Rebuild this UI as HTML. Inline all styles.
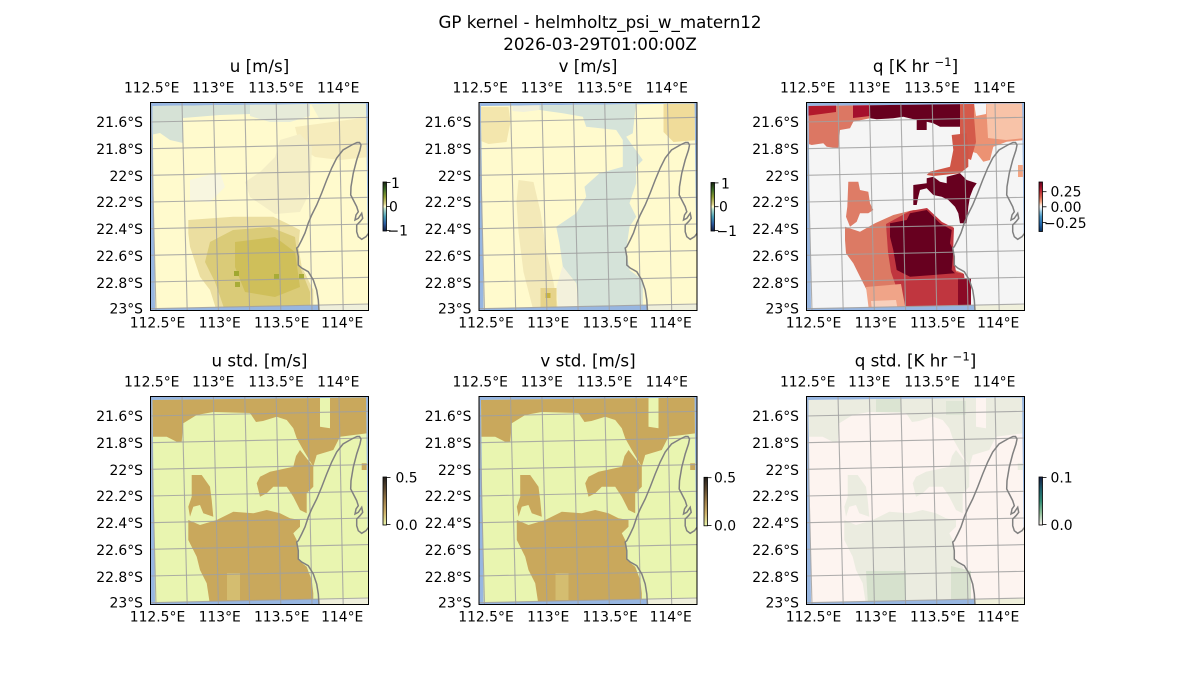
<!DOCTYPE html>
<html><head><meta charset="utf-8">
<style>
html,body{margin:0;padding:0;background:#fff}
svg{display:block}
text{font-family:"DejaVu Sans","Liberation Sans",sans-serif;fill:#000}
.t{font-size:13.9px}
.h{font-size:16.7px}
</style></head><body>
<svg width="1200" height="700" viewBox="0 0 1200 700" xmlns="http://www.w3.org/2000/svg" xmlns:xlink="http://www.w3.org/1999/xlink">
<defs>
 <clipPath id="pc"><rect x="0" y="0" width="219" height="209"/></clipPath>
 <clipPath id="dq"><polygon points="2.5,4 216,1.5 218.5,202 5,206.5"/></clipPath>
 <g id="bg">
  <rect x="0" y="0" width="219" height="209" fill="#97b6e1"/>
  <path d="M169,209 L168.3,198 L166.7,188 L163.3,178 L158.3,169.7 L151.7,166 L148.3,163 L148.3,154.7 L146.7,146 L148.3,144.7 L151.7,138 L155,131 L158.3,121 L161.7,113 L166.7,103 L171.7,91 L176.7,78 L181.7,66 L186.7,56 L193,48 L201.7,43 L207,40.5 L209.5,40.5 L211,43 L210,48 L206.7,58 L203.3,71 L201,84.7 L200.7,93 L203.3,98 L206.7,104.7 L208.3,109.7 L206,113 L205,118 L208.3,116.3 L211.7,111.3 L212.7,116.3 L210,119.7 L206.7,123 L206.7,129.7 L208.3,134.7 L211.7,137.3 L216,134.7 L219,130.7 L219,209 Z" fill="#efefdb"/>
 </g>
 <g id="ov">
  <g stroke="#a0a0a0" stroke-width="1.1" stroke-opacity="0.85" fill="none">
   <line x1="0.6" y1="0" x2="6" y2="209"/>
   <line x1="32" y1="0" x2="37.2" y2="209"/>
   <line x1="63.4" y1="0" x2="68.4" y2="209"/>
   <line x1="94.8" y1="0" x2="99.6" y2="209"/>
   <line x1="126.2" y1="0" x2="130.8" y2="209"/>
   <line x1="157.6" y1="0" x2="162" y2="209"/>
   <line x1="189" y1="0" x2="193.2" y2="209"/>
   <line x1="0" y1="20" x2="219" y2="15.3"/>
   <line x1="0" y1="46.7" x2="219" y2="42"/>
   <line x1="0" y1="73.3" x2="219" y2="68.6"/>
   <line x1="0" y1="100" x2="219" y2="95.3"/>
   <line x1="0" y1="126.7" x2="219" y2="122"/>
   <line x1="0" y1="153.3" x2="219" y2="148.6"/>
   <line x1="0" y1="180" x2="219" y2="175.3"/>
   <line x1="0" y1="206.7" x2="219" y2="202"/>
  </g>
  <path d="M169,209 L168.3,198 L166.7,188 L163.3,178 L158.3,169.7 L151.7,166 L148.3,163 L148.3,154.7 L146.7,146 L148.3,144.7 L151.7,138 L155,131 L158.3,121 L161.7,113 L166.7,103 L171.7,91 L176.7,78 L181.7,66 L186.7,56 L193,48 L201.7,43 L207,40.5 L209.5,40.5 L211,43 L210,48 L206.7,58 L203.3,71 L201,84.7 L200.7,93 L203.3,98 L206.7,104.7 L208.3,109.7 L206,113 L205,118 L208.3,116.3 L211.7,111.3 L212.7,116.3 L210,119.7 L206.7,123 L206.7,129.7 L208.3,134.7 L211.7,137.3 L216,134.7 L219,130.7" fill="none" stroke="#808080" stroke-width="1.5"/>
 </g>
 <g id="stdshape">
  <path d="M0,0 L170,0 L170,30.7 L180,32.3 L180,0 L219,0 L219,37 L190,40.7 L183.3,54 L166.7,59 L163.3,70.7 L153.3,54 L146.7,42.3 L143.3,32.3 L136.7,24 L126.7,20.7 L113,25 L106,26 L100,17 L63.3,16 L46.7,19 L33.3,27.3 L31.7,45.7 L26.7,45.7 L16.7,40.7 L0,40.7 Z"/>
  <polygon points="150,54 163.3,70.7 163.3,90.7 156.7,97.3 156.7,117.3 150,114 143.3,100.7 136.7,90.7 123.3,90.7 116.7,97.3 110,100.7 106.7,87.3 110,80.7 120,75.7 143.3,70.7 146,60"/>
  <polygon points="41.7,79 51.7,79 60,90.7 61.7,104 63.3,120.7 53.3,117.3 50,109 43.3,110.7 40,120.7 38.3,110.7 41.7,100.7"/>
  <polygon points="38.3,124 50,129 66.7,124 83.3,115.7 103.3,117.3 116.7,114 130,117.3 140,122.3 150,124 150,130.7 143.3,137.3 146.7,144 148.3,164 156.7,170.7 161.7,184 163.3,197.3 163.3,209 60,209 56.7,187.3 50,174 46.7,160.7 38.3,144"/>
  <rect x="211.7" y="67.3" width="5" height="6.7"/>
 </g>
 <linearGradient id="gdelta" x1="0" y1="0" x2="0" y2="1">
  <stop offset="0" stop-color="#17230f"/><stop offset="0.15" stop-color="#3b6b26"/><stop offset="0.3" stop-color="#8c9c32"/><stop offset="0.45" stop-color="#dcd38c"/><stop offset="0.5" stop-color="#fffdcd"/><stop offset="0.55" stop-color="#b8e0cf"/><stop offset="0.7" stop-color="#4aa0b5"/><stop offset="0.85" stop-color="#2a5aa0"/><stop offset="1" stop-color="#111d40"/>
 </linearGradient>
 <linearGradient id="grdbu" x1="0" y1="0" x2="0" y2="1">
  <stop offset="0" stop-color="#67001f"/><stop offset="0.15" stop-color="#b2182b"/><stop offset="0.3" stop-color="#d6604d"/><stop offset="0.4" stop-color="#f4a582"/><stop offset="0.45" stop-color="#fddbc7"/><stop offset="0.5" stop-color="#f7f7f7"/><stop offset="0.55" stop-color="#d1e5f0"/><stop offset="0.6" stop-color="#92c5de"/><stop offset="0.7" stop-color="#4393c3"/><stop offset="0.85" stop-color="#2166ac"/><stop offset="1" stop-color="#053061"/>
 </linearGradient>
 <linearGradient id="gturb" x1="0" y1="0" x2="0" y2="1">
  <stop offset="0" stop-color="#221e1b"/><stop offset="0.25" stop-color="#5e4a30"/><stop offset="0.5" stop-color="#a0804a"/><stop offset="0.75" stop-color="#d0b36b"/><stop offset="1" stop-color="#e9f6ab"/>
 </linearGradient>
 <linearGradient id="gtempo" x1="0" y1="0" x2="0" y2="1">
  <stop offset="0" stop-color="#151d44"/><stop offset="0.25" stop-color="#1c5c6a"/><stop offset="0.5" stop-color="#2f8a72"/><stop offset="0.75" stop-color="#8fc09a"/><stop offset="1" stop-color="#fff6f4"/>
 </linearGradient>
</defs>
<rect width="1200" height="700" fill="#fff"/>

<!-- Suptitle -->
<text class="h" x="600" y="28" text-anchor="middle">GP kernel - helmholtz_psi_w_matern12</text>
<text class="h" x="600" y="50" text-anchor="middle">2026-03-29T01:00:00Z</text>

<!-- Titles -->
<text class="h" x="259.5" y="72" text-anchor="middle">u [m/s]</text>
<text class="h" x="588" y="72" text-anchor="middle">v [m/s]</text>
<text class="h" x="915.5" y="72" text-anchor="middle">q [K hr <tspan dy="-6" font-size="11.7">−1</tspan><tspan dy="6">]</tspan></text>
<text class="h" x="259.5" y="366.5" text-anchor="middle">u std. [m/s]</text>
<text class="h" x="588" y="366.5" text-anchor="middle">v std. [m/s]</text>
<text class="h" x="915.5" y="366.5" text-anchor="middle">q std. [K hr <tspan dy="-6" font-size="11.7">−1</tspan><tspan dy="6">]</tspan></text>

<!-- Panel 1: u -->
<g transform="translate(150,102)">
 <g clip-path="url(#pc)">
  <use xlink:href="#bg" href="#bg"/>
  <g clip-path="url(#dq)">
   <rect x="0" y="0" width="219" height="209" fill="#fffacd"/>
   <polygon points="0,0 100,0 100,12 70,13 33,16 33,41 20,38 10,31 0,33" fill="#d6e2d6"/>
   <polygon points="100,0 160,0 160,14 140,20 120,20 100,14" fill="#e6ebd9"/>
   <polygon points="160,0 219,0 219,14 190,16 170,18" fill="#eef0d2"/>
   <polygon points="145,25 219,15 219,55 190,58 165,55 150,45" fill="#f6ecbc"/>
   <polygon points="130,38 150,32 162,45 160,90 150,110 125,112 100,95 95,80 110,70 125,55" fill="#f4eec6"/>
   <polygon points="40,78 70,70 75,85 60,100 40,98" fill="#f8f6e0"/>
   <polygon points="38.3,118 83.3,114.7 123.3,114.7 136.7,121.3 150,128 148.3,144.7 151.7,164.7 163.3,188 163.3,209 66.7,209 60,188 50,174.7 40,144.7 38.3,131.3" fill="#ebdea0"/>
   <polygon points="60,140 83,128 120,125 145,135 148,160 160,190 160,209 75,209 65,180 55,160" fill="#dacb78"/>
   <polygon points="85,140 125,135 145,150 150,185 125,195 95,190 85,165" fill="#cfbf5a"/>
   <rect x="84" y="169" width="5" height="5" fill="#a0a830"/>
   <rect x="85" y="180" width="5" height="5" fill="#a8ac38"/>
   <rect x="124" y="172" width="5" height="5" fill="#a8ac38"/>
   <rect x="149" y="172" width="5" height="5" fill="#a8ac38"/>
  </g>
  <use xlink:href="#ov" href="#ov"/>
 </g>
 <rect x="0.5" y="0.5" width="218" height="208" fill="none" stroke="#000" stroke-width="1"/>
</g>

<!-- Panel 2: v -->
<g transform="translate(478.5,102)">
 <g clip-path="url(#pc)">
  <use xlink:href="#bg" href="#bg"/>
  <g clip-path="url(#dq)">
   <rect x="0" y="0" width="219" height="209" fill="#fffacd"/>
   <polygon points="34,0 61,0 61,8 45,10 34,9" fill="#f1f0dc"/>
   <polygon points="61,0 157.7,0 154.3,31.3 147.7,34.7 164.3,58 157.7,64.7 157.7,81.3 151,101.3 157.7,114.7 151,124.7 147.7,148 151,168 164.3,178 164.3,209 101,209 97.7,181.3 84.3,164.7 81,141.3 77.7,124.7 97.7,111.3 107.7,94.7 106,84.7 121,71.3 144.3,64.7 144.3,38 137.7,28 107.7,24.7 104.3,14.7 84.3,11.3 61,8" fill="#d5e3d9"/>
   <polygon points="84,164 97,181 101,209 80,209 78,185" fill="#f3f1dc"/>
   <polygon points="0,5 30,5 32,20 28,40 10,42 0,38" fill="#f3e6ad"/>
   <polygon points="185,0 219,0 219,38 195,40 185,30" fill="#f0dc9a"/>
   <polygon points="40,78 55,80 62,110 68,150 75,180 80,209 55,209 45,170 40,130 38,100" fill="#f3e9b8"/>
   <rect x="62" y="186" width="16" height="23" fill="#e6d38a"/>
   <rect x="67" y="191" width="5" height="5" fill="#c9b442"/>
  </g>
  <use xlink:href="#ov" href="#ov"/>
 </g>
 <rect x="0.5" y="0.5" width="218" height="208" fill="none" stroke="#000" stroke-width="1"/>
</g>

<!-- Panel 3: q -->
<g transform="translate(806,102)">
 <g clip-path="url(#pc)">
  <use xlink:href="#bg" href="#bg"/>
  <g clip-path="url(#dq)">
   <rect x="0" y="0" width="219" height="209" fill="#f5f5f5"/>
   <polygon points="0,0 64,0 64,16.3 47.3,19.7 44,26.3 34,28 32.3,46.3 20.7,44.7 17.3,41.3 5.7,43 0,41.3" fill="#dc7763"/>
   <polygon points="0,0 30,0 30,10 15,12 0,14" fill="#b2182b"/>
   <polygon points="47,0 64,0 64,14 47,16" fill="#a50f2d"/>
   <polygon points="64,0 154,0 154,24.7 134,24.7 127.3,21.3 120.7,19.7 120.7,28 110.7,28 110.7,18 97.3,14.7 87.3,16.3 70.7,17.3 64,16.3" fill="#67001f"/>
   <polygon points="154,0 219,0 219,38 200.7,39.7 187.3,44.7 184,58 177.3,59.7 170.7,51.3 160.7,48 157.3,31.3 154,24.7" fill="#ec9273"/>
   <polygon points="180,0 219,0 219,36 200,38 182,36" fill="#f8c3a8"/>
   <polygon points="168,0 180,0 180,12 170,14" fill="#f5f5f5"/>
   <polygon points="154,0 168,0 168,14 170,40 165,58 158,55 154,40" fill="#d45a4a"/>
   <polygon points="145.7,33 160.7,31.3 162.3,48 162.3,64.7 154,71.3 127.3,74 120.7,73 124,69.7 144,64.7 147.3,48" fill="#cf5647"/>
   <polygon points="107.3,83 120.7,81.3 120.7,76.3 127.3,74.7 134,79.7 140.7,81.3 140.7,74.7 154,71.3 160.7,78 170.7,81.3 167.3,86.3 164,94.7 162.3,104.7 160.7,121.3 154,121.3 152.3,111.3 149,104.7 142.3,98 135.7,94.7 127.3,93 120.7,86.3 114,88 112.3,94.7 110.7,103 107.3,103" fill="#67001f"/>
   <polygon points="42.3,79.7 52.3,79.7 54,88 62.3,89.7 64,101.3 67.3,108 62.3,111.3 54,111.3 50.7,119.7 44,124.7 40,114.7 41.3,104.7" fill="#de7c66"/>
   <polygon points="39,124.7 54,129.7 69,121.3 87.3,113 107.3,108 120.7,108 134,121.3 147.3,124.7 147.3,141.3 145.7,158 149,168 157.3,171.3 159,188 164.7,188 164.7,209 64,209 60.7,188 54,174.7 47.3,161.3 40,151.3 39,138" fill="#dc7a64"/>
   <polygon points="80,122 104,109 121,106 136,120 148,126 147,150 150,170 158,172 160,188 165,190 165,209 95,209 92,190 85,170 82,150" fill="#c0363f"/>
   <polygon points="84,121.3 100.7,118 104,111.3 120.7,108 134,121.3 145.7,128 144,141.3 147.3,148 145.7,168 149,171.3 127.3,173 104,174.7 90.7,168 87.3,148 84,134.7" fill="#67001f"/>
   <polygon points="152,176 165,176 165,209 152,209" fill="#8b0a26"/>
   <polygon points="60,185 95,182 100,209 63,209" fill="#f0a488"/>
   <polygon points="65,199 90,198 92,209 66,209" fill="#f8d0bc"/>
   <rect x="212" y="63" width="6" height="12" fill="#f4a582"/>
  </g>
  <use xlink:href="#ov" href="#ov"/>
 </g>
 <rect x="0.5" y="0.5" width="218" height="208" fill="none" stroke="#000" stroke-width="1"/>
</g>

<!-- Panel 4: u std -->
<g transform="translate(150,396)">
 <g clip-path="url(#pc)">
  <use xlink:href="#bg" href="#bg"/>
  <g clip-path="url(#dq)">
   <rect x="0" y="0" width="219" height="209" fill="#e9f5b0"/>
   <use xlink:href="#stdshape" href="#stdshape" fill="#c9a85c"/>
   <rect x="77" y="177" width="13" height="27" fill="#d4bd70"/>
  </g>
  <use xlink:href="#ov" href="#ov"/>
 </g>
 <rect x="0.5" y="0.5" width="218" height="208" fill="none" stroke="#000" stroke-width="1"/>
</g>

<!-- Panel 5: v std -->
<g transform="translate(478.5,396)">
 <g clip-path="url(#pc)">
  <use xlink:href="#bg" href="#bg"/>
  <g clip-path="url(#dq)">
   <rect x="0" y="0" width="219" height="209" fill="#e9f5b0"/>
   <use xlink:href="#stdshape" href="#stdshape" fill="#c9a85c"/>
   <rect x="77" y="177" width="13" height="27" fill="#d4bd70"/>
  </g>
  <use xlink:href="#ov" href="#ov"/>
 </g>
 <rect x="0.5" y="0.5" width="218" height="208" fill="none" stroke="#000" stroke-width="1"/>
</g>

<!-- Panel 6: q std -->
<g transform="translate(806,396)">
 <g clip-path="url(#pc)">
  <use xlink:href="#bg" href="#bg"/>
  <g clip-path="url(#dq)">
   <rect x="0" y="0" width="219" height="209" fill="#fdf4f0"/>
   <use xlink:href="#stdshape" href="#stdshape" fill="#e6eadc" fill-opacity="0.8"/>
   <polygon points="60,175 100,175 100,209 62,209" fill="#d6e1cd"/>
   <polygon points="145,170 165,175 165,205 145,205" fill="#d9e2cf"/>
   <rect x="70" y="2" width="25" height="14" fill="#dbe4d2"/>
   <rect x="140" y="5" width="20" height="14" fill="#dfe6d6"/>
  </g>
  <use xlink:href="#ov" href="#ov"/>
 </g>
 <rect x="0.5" y="0.5" width="218" height="208" fill="none" stroke="#000" stroke-width="1"/>
</g>

<!-- Tick labels -->
<g class="t" font-size="13.9">
 <g text-anchor="middle">
  <text x="151.7" y="92.7">112.5°E</text><text x="213.3" y="92.7">113°E</text><text x="276" y="92.7">113.5°E</text><text x="338.3" y="92.7">114°E</text>
  <text x="480.2" y="92.7">112.5°E</text><text x="541.8" y="92.7">113°E</text><text x="604.5" y="92.7">113.5°E</text><text x="666.8" y="92.7">114°E</text>
  <text x="807.7" y="92.7">112.5°E</text><text x="869.3" y="92.7">113°E</text><text x="932" y="92.7">113.5°E</text><text x="994.3" y="92.7">114°E</text>
  <text x="157.5" y="327.7">112.5°E</text><text x="219.7" y="327.7">113°E</text><text x="281.7" y="327.7">113.5°E</text><text x="342.2" y="327.7">114°E</text>
  <text x="486" y="327.7">112.5°E</text><text x="548.2" y="327.7">113°E</text><text x="610.2" y="327.7">113.5°E</text><text x="670.7" y="327.7">114°E</text>
  <text x="813.5" y="327.7">112.5°E</text><text x="875.7" y="327.7">113°E</text><text x="937.7" y="327.7">113.5°E</text><text x="998.2" y="327.7">114°E</text>
  <text x="151.7" y="386.7">112.5°E</text><text x="213.3" y="386.7">113°E</text><text x="276" y="386.7">113.5°E</text><text x="338.3" y="386.7">114°E</text>
  <text x="480.2" y="386.7">112.5°E</text><text x="541.8" y="386.7">113°E</text><text x="604.5" y="386.7">113.5°E</text><text x="666.8" y="386.7">114°E</text>
  <text x="807.7" y="386.7">112.5°E</text><text x="869.3" y="386.7">113°E</text><text x="932" y="386.7">113.5°E</text><text x="994.3" y="386.7">114°E</text>
  <text x="157.5" y="621.7">112.5°E</text><text x="219.7" y="621.7">113°E</text><text x="281.7" y="621.7">113.5°E</text><text x="342.2" y="621.7">114°E</text>
  <text x="486" y="621.7">112.5°E</text><text x="548.2" y="621.7">113°E</text><text x="610.2" y="621.7">113.5°E</text><text x="670.7" y="621.7">114°E</text>
  <text x="813.5" y="621.7">112.5°E</text><text x="875.7" y="621.7">113°E</text><text x="937.7" y="621.7">113.5°E</text><text x="998.2" y="621.7">114°E</text>
 </g>
 <g text-anchor="end">
  <text x="143" y="127">21.6°S</text><text x="143" y="154">21.8°S</text><text x="143" y="181">22°S</text><text x="143" y="207">22.2°S</text><text x="143" y="234">22.4°S</text><text x="143" y="261">22.6°S</text><text x="143" y="288">22.8°S</text><text x="143" y="313.7">23°S</text>
  <text x="471.5" y="127">21.6°S</text><text x="471.5" y="154">21.8°S</text><text x="471.5" y="181">22°S</text><text x="471.5" y="207">22.2°S</text><text x="471.5" y="234">22.4°S</text><text x="471.5" y="261">22.6°S</text><text x="471.5" y="288">22.8°S</text><text x="471.5" y="313.7">23°S</text>
  <text x="799" y="127">21.6°S</text><text x="799" y="154">21.8°S</text><text x="799" y="181">22°S</text><text x="799" y="207">22.2°S</text><text x="799" y="234">22.4°S</text><text x="799" y="261">22.6°S</text><text x="799" y="288">22.8°S</text><text x="799" y="313.7">23°S</text>
  <text x="143" y="421">21.6°S</text><text x="143" y="448">21.8°S</text><text x="143" y="475">22°S</text><text x="143" y="501">22.2°S</text><text x="143" y="528">22.4°S</text><text x="143" y="555">22.6°S</text><text x="143" y="582">22.8°S</text><text x="143" y="607.7">23°S</text>
  <text x="471.5" y="421">21.6°S</text><text x="471.5" y="448">21.8°S</text><text x="471.5" y="475">22°S</text><text x="471.5" y="501">22.2°S</text><text x="471.5" y="528">22.4°S</text><text x="471.5" y="555">22.6°S</text><text x="471.5" y="582">22.8°S</text><text x="471.5" y="607.7">23°S</text>
  <text x="799" y="421">21.6°S</text><text x="799" y="448">21.8°S</text><text x="799" y="475">22°S</text><text x="799" y="501">22.2°S</text><text x="799" y="528">22.4°S</text><text x="799" y="555">22.6°S</text><text x="799" y="582">22.8°S</text><text x="799" y="607.7">23°S</text>
 </g>
</g>

<!-- Colorbars -->
<g stroke="#000" stroke-width="0.8">
 <rect x="383" y="182" width="3.5" height="49" fill="url(#gdelta)"/>
 <line x1="386.5" y1="182.4" x2="390.5" y2="182.4"/><line x1="386.5" y1="206.5" x2="390.5" y2="206.5"/><line x1="386.5" y1="230.6" x2="390.5" y2="230.6"/>
 <rect x="711" y="182.5" width="3.5" height="48.5" fill="url(#gdelta)"/>
 <line x1="714.5" y1="182.9" x2="718.5" y2="182.9"/><line x1="714.5" y1="206.7" x2="718.5" y2="206.7"/><line x1="714.5" y1="230.6" x2="718.5" y2="230.6"/>
 <rect x="1039" y="182" width="3.5" height="49.5" fill="url(#grdbu)"/>
 <line x1="1042.5" y1="191.7" x2="1046.5" y2="191.7"/><line x1="1042.5" y1="206.8" x2="1046.5" y2="206.8"/><line x1="1042.5" y1="222.5" x2="1046.5" y2="222.5"/>
 <rect x="383" y="477" width="3.5" height="48" fill="url(#gturb)"/>
 <line x1="386.5" y1="477.4" x2="390.5" y2="477.4"/><line x1="386.5" y1="524.6" x2="390.5" y2="524.6"/>
 <rect x="704" y="477.3" width="3.5" height="48.5" fill="url(#gturb)"/>
 <line x1="707.5" y1="477.7" x2="711.5" y2="477.7"/><line x1="707.5" y1="525.4" x2="711.5" y2="525.4"/>
 <rect x="1039" y="477" width="3.5" height="48" fill="url(#gtempo)"/>
 <line x1="1042.5" y1="477.4" x2="1046.5" y2="477.4"/><line x1="1042.5" y1="524.6" x2="1046.5" y2="524.6"/>
</g>
<g class="t" font-size="13.9">
 <text x="391" y="188">1</text><text x="389" y="211.5">0</text><text x="387.5" y="235.5">−1</text>
 <text x="721" y="188.5">1</text><text x="719" y="211.7">0</text><text x="716.5" y="236">−1</text>
 <text x="1050.5" y="196.5">0.25</text><text x="1050.5" y="212">0.00</text><text x="1044" y="228">−0.25</text>
 <text x="395.5" y="482.3">0.5</text><text x="395.5" y="530">0.0</text>
 <text x="714" y="482.3">0.5</text><text x="714" y="530.5">0.0</text>
 <text x="1050.5" y="482.3">0.1</text><text x="1050.5" y="530">0.0</text>
</g>
</svg>
</body></html>
